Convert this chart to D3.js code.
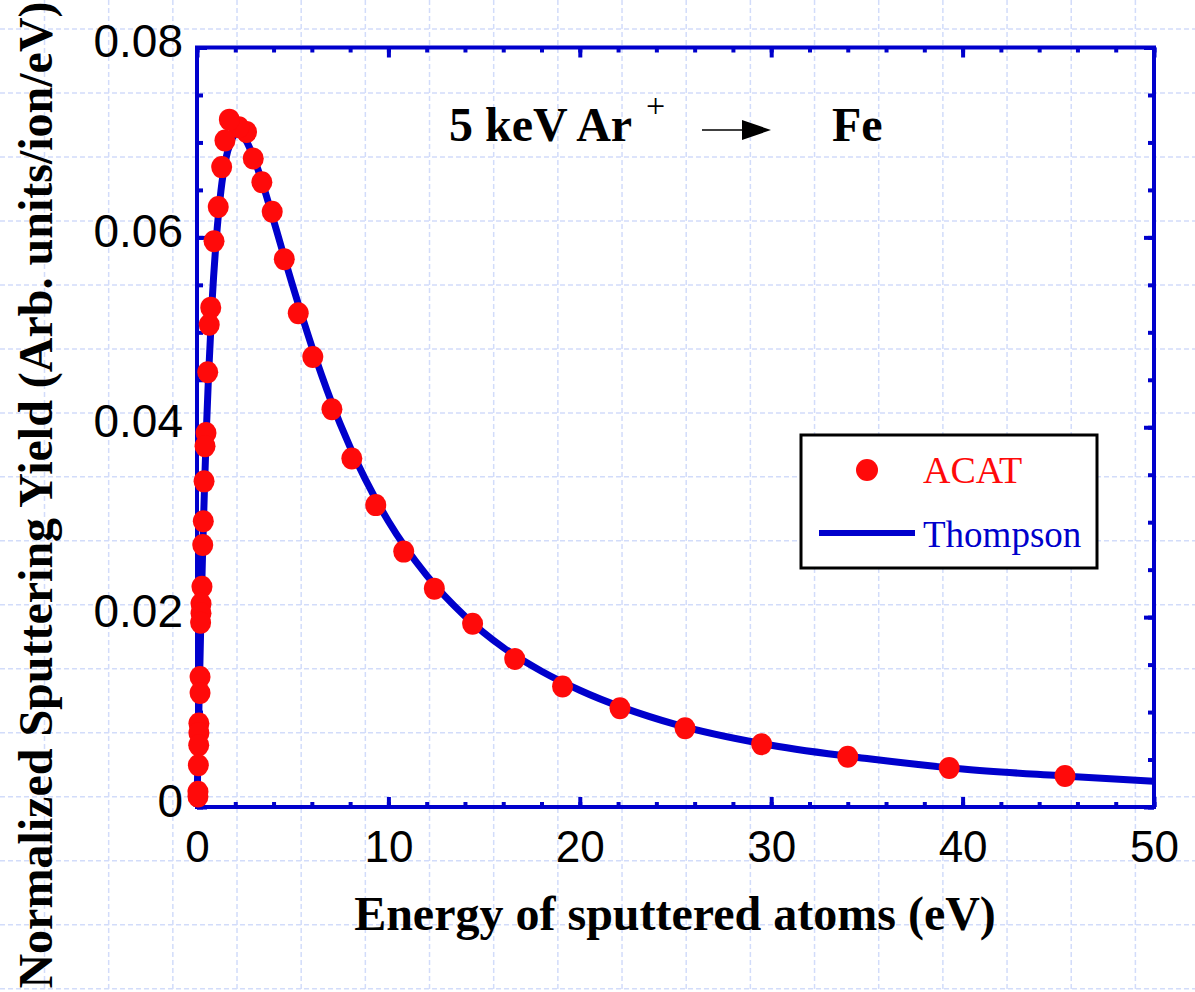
<!DOCTYPE html>
<html>
<head>
<meta charset="utf-8">
<script src="https://cdn.jsdelivr.net/npm/d3@7"></script>
<style>
  body { margin: 0; background: #fff; }
  svg { display: block; }
  .tick text { font-family: "Liberation Sans", Arial, sans-serif; fill: #000; }
</style>
</head>
<body>
<svg width="1195" height="992"></svg>
<script>
// ACAT simulation points (energy eV, yield)
var acatE = [45.35, 39.3, 34.0, 29.5, 25.5, 22.1, 19.1, 16.6, 14.4, 12.4, 10.8, 9.34, 8.09, 7.05, 6.05,
    5.29, 4.56, 3.93, 3.39, 2.94, 2.59, 2.19, 1.69, 1.46, 1.29, 1.11, 0.89, 0.72, 0.64, 0.56,
    0.47, 0.42, 0.37, 0.33, 0.30, 0.26, 0.21, 0.21, 0.19, 0.16, 0.16, 0.10, 0.10, 0.09, 0.07, 0.05, 0.05];
var acatY = [0.00326, 0.0041, 0.00530, 0.0066, 0.0083, 0.0104, 0.0127, 0.0156, 0.0193, 0.0230, 0.0269, 0.0318, 0.0367, 0.0419, 0.0474,
    0.0520, 0.0577, 0.0627, 0.0658, 0.0683, 0.0711, 0.0716, 0.0724, 0.0702, 0.0674, 0.0632, 0.0596, 0.0526, 0.0508, 0.0458,
    0.0394, 0.0380, 0.0343, 0.0301, 0.0276, 0.0232, 0.0214, 0.0204, 0.0194, 0.0137, 0.0120, 0.0088, 0.0078, 0.0065, 0.0044, 0.0016, 0.0011];

// Thompson curve
var thompE = [0, 0.05, 0.1, 0.2, 0.3, 0.4, 0.5, 0.6, 0.8, 1.0, 1.25, 1.5, 1.75, 2.1, 2.5, 3, 3.5, 4, 5, 6, 7, 8,
    10, 12, 14, 16, 18, 20, 25, 30, 35, 40, 45, 50];
var thompY = [0, 0.0054, 0.0104, 0.0195, 0.0274, 0.0342, 0.0402, 0.0453, 0.0536, 0.0596, 0.0649, 0.0682, 0.0700, 0.0710, 0.0704,
    0.0682, 0.0652, 0.0618, 0.0549, 0.0485, 0.0428, 0.0379, 0.0301, 0.0244, 0.0201, 0.0168, 0.0143, 0.0123, 0.0087,
    0.0065, 0.0051, 0.0040, 0.0033, 0.0027];

var xMajor = [0, 10, 20, 30, 40, 50];
var yMajor = [0, 0.02, 0.04, 0.06, 0.08];

var blue = "#0000cc", red = "#ff0a0a";
var svg = d3.select("svg");
var W = 1195, H = 992;

// background slide grid
var bg = svg.append("g");
for (var gx = 44.5; gx < W; gx += 64.17) {
    bg.append("line").attr("x1", gx).attr("x2", gx).attr("y1", 0).attr("y2", H);
}
for (var gy = 29; gy < H; gy += 63.98) {
    bg.append("line").attr("x1", 0).attr("x2", W).attr("y1", gy).attr("y2", gy);
}
bg.selectAll("line").attr("stroke", "#d2dcfa").attr("stroke-width", 1.5).attr("stroke-dasharray", "5,3");

var xScale = d3.scaleLinear().domain([0, 50]).range([197, 1154]);
var yScale = d3.scaleLinear().domain([0, 0.08]).range([807, 47.5]);

function styleAxis(g) {
    g.select(".domain").remove();
    g.selectAll(".tick line").attr("stroke", blue).attr("stroke-width", 4);
}

// minor ticks on all four sides (inward)
var xMinor = d3.range(0, 51, 2), yMinor = d3.range(0, 0.0801, 0.005);
svg.append("g").attr("transform", "translate(0,807)")
    .call(d3.axisBottom(xScale).tickValues(xMinor).tickSize(-5).tickFormat("")).call(styleAxis);
svg.append("g").attr("transform", "translate(0,47.5)")
    .call(d3.axisTop(xScale).tickValues(xMinor).tickSize(-5).tickFormat("")).call(styleAxis);
svg.append("g").attr("transform", "translate(197,0)")
    .call(d3.axisLeft(yScale).tickValues(yMinor).tickSize(-6).tickFormat("")).call(styleAxis);
svg.append("g").attr("transform", "translate(1154,0)")
    .call(d3.axisRight(yScale).tickValues(yMinor).tickSize(-6).tickFormat("")).call(styleAxis);

// major ticks with labels
var xAxis = svg.append("g").attr("transform", "translate(0,807)")
    .call(d3.axisBottom(xScale).tickValues(xMajor).tickSize(-10).tickPadding(24).tickFormat(d3.format("d")))
    .call(styleAxis);
xAxis.selectAll(".tick text").attr("font-size", 44);
svg.append("g").attr("transform", "translate(0,47.5)")
    .call(d3.axisTop(xScale).tickValues(xMajor).tickSize(-10).tickFormat("")).call(styleAxis);
var yAxis = svg.append("g").attr("transform", "translate(197,0)")
    .call(d3.axisLeft(yScale).tickValues(yMajor).tickSize(-10).tickPadding(14)
        .tickFormat(function(d) { return d === 0 ? "0" : d.toFixed(2); }))
    .call(styleAxis);
yAxis.selectAll(".tick text").attr("font-size", 46).attr("dy", "0.2em");
svg.append("g").attr("transform", "translate(1154,0)")
    .call(d3.axisRight(yScale).tickValues(yMajor).tickSize(-10).tickFormat("")).call(styleAxis);

// frame
svg.append("rect").attr("x", 197).attr("y", 47.5).attr("width", 957).attr("height", 759.5)
    .attr("fill", "none").attr("stroke", blue).attr("stroke-width", 4);

// Thompson line
var line = d3.line()
    .x(function(d, i) { return xScale(thompE[i]); })
    .y(function(d, i) { return yScale(thompY[i]); })
    .curve(d3.curveMonotoneX);
svg.append("path").datum(thompE).attr("d", line)
    .attr("fill", "none").attr("stroke", blue).attr("stroke-width", 7).attr("stroke-linejoin", "round");

// ACAT points
svg.append("g").selectAll("ellipse").data(acatE).enter().append("ellipse")
    .attr("cx", function(d) { return xScale(d); })
    .attr("cy", function(d, i) { return yScale(acatY[i]); })
    .attr("rx", 10.5).attr("ry", 11)
    .attr("fill", red);

// title
var serif = "'Liberation Serif', 'Times New Roman', serif";
var title = svg.append("g").attr("font-family", serif).attr("font-weight", "bold").attr("font-size", 48);
title.append("text").attr("x", 449).attr("y", 141).text("5 keV Ar");
title.append("text").attr("x", 646).attr("y", 117).attr("font-size", 34).attr("font-weight", "normal").text("+");
title.append("text").attr("x", 832).attr("y", 141).text("Fe");
svg.append("line").attr("x1", 702).attr("x2", 745).attr("y1", 130).attr("y2", 130)
    .attr("stroke", "#000").attr("stroke-width", 1.5);
svg.append("path").attr("d", "M742,120 L771,130 L742,140 Z").attr("fill", "#000");

// axis titles
svg.append("text").attr("x", 675).attr("y", 930).attr("text-anchor", "middle")
    .attr("font-family", serif).attr("font-weight", "bold").attr("font-size", 48)
    .text("Energy of sputtered atoms (eV)");
svg.append("text").attr("transform", "translate(52,495) rotate(-90)").attr("text-anchor", "middle")
    .attr("font-family", serif).attr("font-weight", "bold").attr("font-size", 48)
    .text("Normalized Sputtering Yield (Arb. units/ion/eV)");

// legend
var lg = svg.append("g");
lg.append("rect").attr("x", 801).attr("y", 435).attr("width", 296).attr("height", 133)
    .attr("fill", "#fff").attr("stroke", "#000").attr("stroke-width", 3);
lg.append("circle").attr("cx", 867).attr("cy", 470).attr("r", 11).attr("fill", red);
lg.append("text").attr("x", 923).attr("y", 483).attr("font-family", serif).attr("font-size", 38)
    .attr("fill", red).text("ACAT");
lg.append("line").attr("x1", 819).attr("x2", 915).attr("y1", 533).attr("y2", 533)
    .attr("stroke", blue).attr("stroke-width", 6);
lg.append("text").attr("x", 923).attr("y", 547).attr("font-family", serif).attr("font-size", 37)
    .attr("fill", blue).text("Thompson");
</script>
</body>
</html>
